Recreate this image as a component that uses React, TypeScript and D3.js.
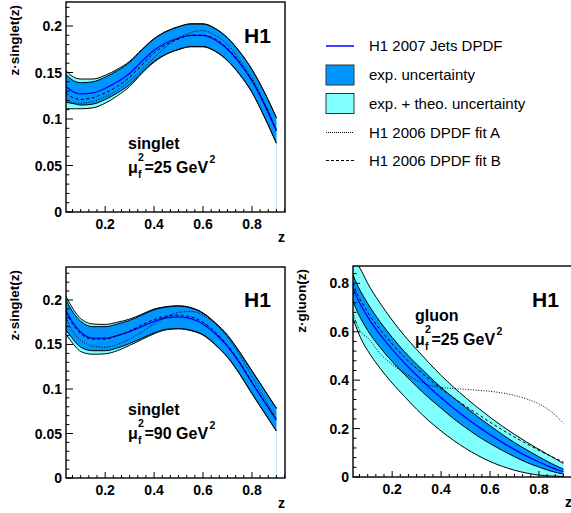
import React from "react";
import * as d3 from "d3";

// z grid shared by all curves
const Z = [0.04, 0.06, 0.08, 0.1, 0.15, 0.2, 0.25, 0.3, 0.35, 0.4, 0.45, 0.5, 0.55, 0.6, 0.65, 0.7, 0.75, 0.8, 0.85, 0.9];

// singlet, mu_f^2 = 25 GeV^2
const s25Central = [0.135, 0.131, 0.128, 0.127, 0.128, 0.133, 0.14, 0.149, 0.162, 0.174, 0.182, 0.187, 0.19, 0.19, 0.185, 0.175, 0.16, 0.141, 0.116, 0.087];
const s25ExpHi = [0.148, 0.143, 0.14, 0.139, 0.14, 0.145, 0.152, 0.161, 0.174, 0.186, 0.194, 0.199, 0.202, 0.202, 0.197, 0.187, 0.172, 0.153, 0.129, 0.101];
const s25ExpLo = [0.118, 0.117, 0.116, 0.115, 0.116, 0.121, 0.128, 0.137, 0.15, 0.162, 0.17, 0.175, 0.178, 0.178, 0.173, 0.163, 0.148, 0.129, 0.103, 0.074];
const s25TotHi = [0.152, 0.147, 0.144, 0.143, 0.143, 0.147, 0.1535, 0.162, 0.1748, 0.1865, 0.1944, 0.1994, 0.2024, 0.2024, 0.1974, 0.1874, 0.1724, 0.1534, 0.1294, 0.1014];
const s25TotLo = [0.111, 0.111, 0.111, 0.111, 0.112, 0.117, 0.125, 0.135, 0.149, 0.1612, 0.1696, 0.1746, 0.1776, 0.1776, 0.1726, 0.1626, 0.1476, 0.1286, 0.1026, 0.0736];
const s25FitA = [0.121, 0.118, 0.117, 0.117, 0.119, 0.124, 0.131, 0.141, 0.153, 0.166, 0.178, 0.187, 0.193, 0.195, 0.19, 0.18, 0.164, 0.144, 0.118, 0.089];
const s25FitB = [0.128, 0.124, 0.122, 0.121, 0.123, 0.128, 0.135, 0.145, 0.158, 0.171, 0.18, 0.186, 0.19, 0.19, 0.186, 0.176, 0.161, 0.142, 0.117, 0.088];

// singlet, mu_f^2 = 90 GeV^2
const s90Central = [0.188, 0.178, 0.17, 0.164, 0.157, 0.157, 0.16, 0.1645, 0.17, 0.176, 0.18, 0.181, 0.179, 0.173, 0.162, 0.148, 0.129, 0.107, 0.086, 0.065];
const s90ExpHi = [0.2, 0.19, 0.182, 0.176, 0.17, 0.17, 0.173, 0.177, 0.183, 0.189, 0.192, 0.193, 0.191, 0.185, 0.174, 0.16, 0.141, 0.12, 0.099, 0.078];
const s90ExpLo = [0.166, 0.159, 0.152, 0.147, 0.143, 0.143, 0.146, 0.151, 0.157, 0.163, 0.167, 0.168, 0.166, 0.161, 0.15, 0.136, 0.117, 0.095, 0.074, 0.053];
const s90TotHi = [0.204, 0.194, 0.1855, 0.179, 0.173, 0.1725, 0.175, 0.1785, 0.184, 0.1898, 0.1925, 0.1935, 0.1915, 0.1855, 0.1745, 0.1605, 0.1415, 0.1205, 0.0995, 0.0785];
const s90TotLo = [0.161, 0.154, 0.147, 0.142, 0.139, 0.1395, 0.143, 0.149, 0.1555, 0.162, 0.1665, 0.1675, 0.1655, 0.1605, 0.1495, 0.1355, 0.1165, 0.0945, 0.0735, 0.0525];
const s90FitA = [0.18, 0.168, 0.16, 0.155, 0.148, 0.147, 0.15, 0.156, 0.164, 0.173, 0.181, 0.186, 0.187, 0.183, 0.173, 0.158, 0.138, 0.114, 0.09, 0.067];
const s90FitB = [0.186, 0.176, 0.168, 0.162, 0.156, 0.156, 0.16, 0.165, 0.172, 0.178, 0.182, 0.183, 0.181, 0.175, 0.164, 0.149, 0.13, 0.108, 0.086, 0.065];

// gluon, mu_f^2 = 25 GeV^2
const g25Central = [0.78, 0.733, 0.695, 0.661, 0.589, 0.527, 0.471, 0.42, 0.372, 0.327, 0.285, 0.246, 0.209, 0.175, 0.143, 0.113, 0.086, 0.062, 0.04, 0.022];
const g25ExpHi = [0.835, 0.788, 0.751, 0.717, 0.642, 0.577, 0.518, 0.466, 0.417, 0.37, 0.328, 0.288, 0.249, 0.212, 0.176, 0.142, 0.112, 0.083, 0.056, 0.032];
const g25ExpLo = [0.725, 0.678, 0.639, 0.605, 0.536, 0.477, 0.424, 0.374, 0.327, 0.284, 0.242, 0.204, 0.169, 0.138, 0.11, 0.084, 0.06, 0.041, 0.024, 0.012];
const g25TotHi = [0.936, 0.88, 0.841, 0.8, 0.719, 0.648, 0.584, 0.527, 0.472, 0.42, 0.372, 0.328, 0.286, 0.247, 0.21, 0.176, 0.144, 0.114, 0.085, 0.056];
const g25TotLo = [0.655, 0.601, 0.556, 0.522, 0.45, 0.388, 0.333, 0.28, 0.232, 0.19, 0.152, 0.118, 0.089, 0.064, 0.044, 0.028, 0.016, 0.008, 0.004, 0.002];
const g25FitA = [0.68, 0.62, 0.59, 0.575, 0.51, 0.465, 0.43, 0.4, 0.38, 0.37, 0.366, 0.362, 0.358, 0.354, 0.347, 0.337, 0.322, 0.302, 0.27, 0.222];
const g25FitB = [0.8, 0.75, 0.715, 0.68, 0.61, 0.55, 0.495, 0.448, 0.405, 0.365, 0.328, 0.293, 0.26, 0.226, 0.195, 0.165, 0.137, 0.11, 0.085, 0.062];

// axis ticks
const X_TICKS = [0.2, 0.4, 0.6, 0.8];
const X_TICK_LABELS = ["0.2", "0.4", "0.6", "0.8"];
const SINGLET_Y_TICKS = [0, 0.05, 0.1, 0.15, 0.2];
const SINGLET_Y_LABELS = ["0", "0.05", "0.1", "0.15", "0.2"];
const GLUON_Y_TICKS = [0, 0.2, 0.4, 0.6, 0.8];
const GLUON_Y_LABELS = ["0", "0.2", "0.4", "0.6", "0.8"];

const LEGEND_LABELS = ["H1 2007 Jets DPDF", "exp. uncertainty", "exp. + theo. uncertainty", "H1 2006 DPDF fit A", "H1 2006 DPDF fit B"];

const BLUE = "rgb(0,150,255)";
const CYAN = "rgb(128,255,255)";
const FONT = "'Liberation Sans', Arial, Helvetica, sans-serif";

type PanelProps = {
  id: string;
  x0: number; x1: number; y0: number; y1: number;
  yMax: number;
  yTicks: number[]; yLabels: string[]; yMinor: number;
  central: number[]; expHi: number[]; expLo: number[]; totHi: number[]; totLo: number[];
  fitA: number[]; fitB: number[];
  yTitle: string;
  label1: string; label1X: number; label1Y: number;
  scaleText: string;
  h1X: number; h1Y: number;
  endLine: boolean;
};

function Panel(p: PanelProps) {
  const x = d3.scaleLinear().domain([0.04, 0.935]).range([p.x0, p.x1]);
  const y = d3.scaleLinear().domain([0, p.yMax]).range([p.y1, p.y0]);
  const curve = d3.curveMonotoneX;
  const area = (hi: number[], lo: number[]) =>
    d3.area<number>().x((d) => x(d)).y0((_, i) => y(lo[i])).y1((_, i) => y(hi[i])).curve(curve)(Z) || "";
  const line = (v: number[]) =>
    d3.line<number>().x((d) => x(d)).y((_, i) => y(v[i])).curve(curve)(Z) || "";

  const xMinor = d3.range(1, 29).map((k) => k / 30).filter((v) => v > 0.04 && v < 0.935 && Math.abs(v * 5 - Math.round(v * 5)) > 1e-6);
  const yMinor = d3.range(0, p.yMax, p.yMinor).filter((v) => !p.yTicks.some((t) => Math.abs(t - v) < 1e-9));
  const clip = `clip-${p.id}`;
  const last = Z.length - 1;

  return (
    <g>
      <defs>
        <clipPath id={clip}>
          <rect x={p.x0} y={p.y0} width={p.x1 - p.x0} height={p.y1 - p.y0} />
        </clipPath>
      </defs>
      <g clipPath={`url(#${clip})`}>
        <path d={area(p.totHi, p.totLo)} fill={CYAN} stroke="none" />
        <path d={line(p.totHi)} fill="none" stroke="#000" strokeWidth={1} />
        <path d={line(p.totLo)} fill="none" stroke="#000" strokeWidth={1} />
        <path d={area(p.expHi, p.expLo)} fill={BLUE} stroke="none" />
        <path d={line(p.expHi)} fill="none" stroke="#000" strokeWidth={1} />
        <path d={line(p.expLo)} fill="none" stroke="#000" strokeWidth={1} />
        <path d={line(p.central)} fill="none" stroke="#0000ff" strokeWidth={1.3} />
        <path d={line(p.fitA)} fill="none" stroke="#000" strokeWidth={1} strokeDasharray="1,1.6" />
        <path d={line(p.fitB)} fill="none" stroke="#000" strokeWidth={1} strokeDasharray="3,2.5" />
        {p.endLine && (
          <line x1={x(Z[last])} x2={x(Z[last])} y1={y(p.totLo[last])} y2={p.y1} stroke="#bfe4fb" strokeWidth={1} />
        )}
      </g>
      <rect x={p.x0} y={p.y0} width={p.x1 - p.x0} height={p.y1 - p.y0} fill="none" stroke="#000" strokeWidth={1.4} />
      {p.yTicks.map((t) => (
        <line key={"ym" + t} x1={p.x0} x2={p.x0 + 7} y1={y(t)} y2={y(t)} stroke="#000" strokeWidth={1} />
      ))}
      {yMinor.map((t) => (
        <line key={"yn" + t} x1={p.x0} x2={p.x0 + 3.5} y1={y(t)} y2={y(t)} stroke="#000" strokeWidth={1} />
      ))}
      {p.yTicks.map((t, i) => (
        <text key={"yl" + t} x={p.x0 - 4} y={y(t)} dy="0.36em" textAnchor="end" fontFamily={FONT} fontWeight="bold" fontSize={14}>
          {p.yLabels[i]}
        </text>
      ))}
      {X_TICKS.map((t) => (
        <line key={"xm" + t} x1={x(t)} x2={x(t)} y1={p.y1} y2={p.y1 - 6} stroke="#000" strokeWidth={1} />
      ))}
      {xMinor.map((t) => (
        <line key={"xn" + t} x1={x(t)} x2={x(t)} y1={p.y1} y2={p.y1 - 3} stroke="#000" strokeWidth={1} />
      ))}
      {X_TICKS.map((t, i) => (
        <text key={"xl" + t} x={x(t)} y={p.y1 + 17} textAnchor="middle" fontFamily={FONT} fontWeight="bold" fontSize={14}>
          {X_TICK_LABELS[i]}
        </text>
      ))}
      <text x={p.x1} y={p.y1 + 30} textAnchor="end" fontFamily={FONT} fontWeight="bold" fontSize={14}>z</text>
      <text transform={`translate(${p.x0 - 47.5},${p.y0 + 3}) rotate(-90)`} textAnchor="end" fontFamily={FONT} fontWeight="bold" fontSize={13.5}>
        {p.yTitle}
      </text>
      <text x={p.h1X} y={p.h1Y} fontFamily={FONT} fontWeight="bold" fontSize={21}>H1</text>
      <text x={p.label1X} y={p.label1Y} fontFamily={FONT} fontWeight="bold" fontSize={16}>{p.label1}</text>
      <g fontFamily={FONT} fontWeight="bold">
        <text x={p.label1X} y={p.label1Y + 24} fontSize={16}>μ</text>
        <text x={p.label1X + 10} y={p.label1Y + 29} fontSize={10.5}>f</text>
        <text x={p.label1X + 10} y={p.label1Y + 12} fontSize={10.5}>2</text>
        <text x={p.label1X + 16.5} y={p.label1Y + 24} fontSize={16}>{p.scaleText}</text>
        <text x={p.label1X + 81.5} y={p.label1Y + 14} fontSize={10.5}>2</text>
      </g>
    </g>
  );
}

function Legend() {
  const rows = [46, 75, 103.5, 132.5, 160.5];
  const lx0 = 326, lx1 = 354;
  return (
    <g>
      <line x1={lx0} x2={lx1} y1={rows[0]} y2={rows[0]} stroke="#0000ff" strokeWidth={1.5} />
      <rect x={lx0} y={rows[1] - 10} width={lx1 - lx0} height={20} fill={BLUE} stroke="#333" strokeWidth={1} />
      <rect x={lx0} y={rows[2] - 10} width={lx1 - lx0} height={20} fill={CYAN} stroke="#333" strokeWidth={1} />
      <line x1={lx0} x2={lx1} y1={rows[3]} y2={rows[3]} stroke="#000" strokeWidth={1} strokeDasharray="1,1" />
      <line x1={lx0} x2={lx1} y1={rows[4]} y2={rows[4]} stroke="#000" strokeWidth={1} strokeDasharray="3,2" />
      {LEGEND_LABELS.map((t, i) => (
        <text key={t} x={369} y={rows[i]} dy="0.35em" fontFamily={FONT} fontSize={15}>{t}</text>
      ))}
    </g>
  );
}

export default function App() {
  return (
    <div style={{ position: "absolute", left: 0, top: 0, width: 571, height: 513, background: "#fff" }}>
      <svg width={571} height={513} viewBox="0 0 571 513" style={{ display: "block" }}>
        <rect x={0} y={0} width={571} height={513} fill="#fff" />
        <Panel
          id="tl" x0={66} x1={285} y0={2} y1={212} yMax={0.2258}
          yTicks={SINGLET_Y_TICKS} yLabels={SINGLET_Y_LABELS} yMinor={0.01}
          central={s25Central} expHi={s25ExpHi} expLo={s25ExpLo} totHi={s25TotHi} totLo={s25TotLo}
          fitA={s25FitA} fitB={s25FitB}
          yTitle="z·singlet(z)" label1="singlet" label1X={128} label1Y={149} scaleText="=25 GeV"
          h1X={244} h1Y={43} endLine={true}
        />
        <Panel
          id="bl" x0={66} x1={285} y0={267} y1={478} yMax={0.237}
          yTicks={SINGLET_Y_TICKS} yLabels={SINGLET_Y_LABELS} yMinor={0.01}
          central={s90Central} expHi={s90ExpHi} expLo={s90ExpLo} totHi={s90TotHi} totLo={s90TotLo}
          fitA={s90FitA} fitB={s90FitB}
          yTitle="z·singlet(z)" label1="singlet" label1X={128} label1Y={415} scaleText="=90 GeV"
          h1X={244} h1Y={307} endLine={true}
        />
        <Panel
          id="br" x0={353} x1={572} y0={266} y1={477} yMax={0.8715}
          yTicks={GLUON_Y_TICKS} yLabels={GLUON_Y_LABELS} yMinor={0.04}
          central={g25Central} expHi={g25ExpHi} expLo={g25ExpLo} totHi={g25TotHi} totLo={g25TotLo}
          fitA={g25FitA} fitB={g25FitB}
          yTitle="z·gluon(z)" label1="gluon" label1X={415} label1Y={321} scaleText="=25 GeV"
          h1X={532} h1Y={307} endLine={false}
        />
        <Legend />
      </svg>
    </div>
  );
}
